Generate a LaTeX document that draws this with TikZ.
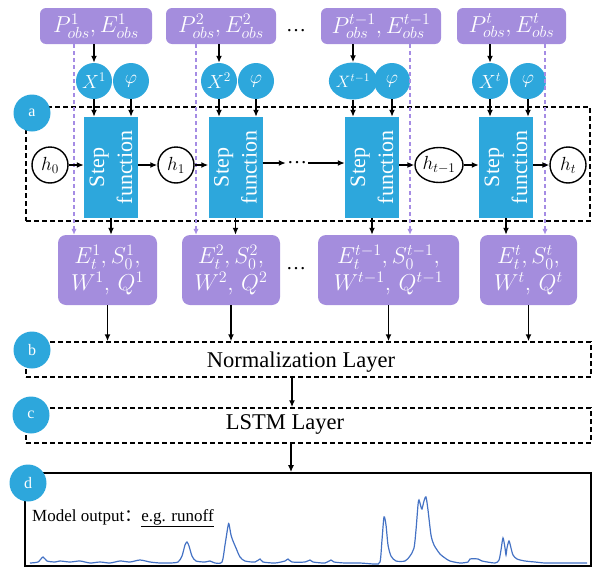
\RequirePackage{fix-cm}
\documentclass[tikz,border=0pt]{standalone}
\usepackage{fontspec}
\setmainfont{Liberation Serif}
\newfontfamily\cjkfont{Noto Sans CJK SC}
\usetikzlibrary{arrows.meta,calc,shapes.geometric}
\definecolor{cyanb}{RGB}{45,167,220}
\definecolor{purp}{RGB}{164,141,221}
\definecolor{purpline}{RGB}{165,140,228}
\definecolor{runoffc}{RGB}{68,114,196}
\begin{document}
\begin{tikzpicture}[x=1pt,y=-1pt,
 tbox/.style={fill=purp, rounded corners=6pt, text=white, inner sep=0pt, minimum height=36pt, font=\fontsize{23}{26}\selectfont},
 lbox/.style={fill=purp, rounded corners=8pt, text=white, inner sep=0pt, align=center, minimum height=70pt, font=\fontsize{23}{27}\selectfont},
 circ/.style={circle, fill=cyanb, text=white, minimum size=36pt, inner sep=0pt, font=\fontsize{19}{20}\selectfont},
 lab/.style={circle, fill=cyanb, text=white, minimum size=37pt, inner sep=0pt, font=\fontsize{16}{18}\selectfont},
 hnode/.style={circle, draw=black, line width=1.4pt, fill=white, minimum size=36pt, inner sep=0pt, font=\fontsize{19}{20}\selectfont},
 stepbox/.style={fill=cyanb, text=white, rotate=90, minimum width=101pt, minimum height=54pt, inner sep=0pt, align=center, font=\fontsize{22}{28}\selectfont},
 dashbox/.style={draw=black, dash pattern=on 5pt off 3pt, line width=1.4pt, inner sep=0pt},
 arr/.style={-{Latex[length=7pt,width=6pt]}, line width=1.6pt},
 parr/.style={draw=purpline, dash pattern=on 4pt off 3pt, line width=1.3pt, -{Latex[length=6pt,width=5.5pt]}},
 layertext/.style={font=\fontsize{22.5}{26}\selectfont},
 dots/.style={font=\fontsize{20}{22}\selectfont, inner sep=1pt}
]
\useasboundingbox (0,0) rectangle (600,573);

% region a
\node[dashbox, minimum width=564pt, minimum height=114pt] (A) at (308,164) {};
% layers
\node[dashbox, minimum width=565pt, minimum height=35pt] (N) at (308.5,359.5) {};
\node[layertext] at (301,362) {Normalization Layer};
\node[dashbox, minimum width=565pt, minimum height=35pt] (LS) at (308.5,425.5) {};
\node[layertext] at (285,424) {LSTM Layer};
\node[draw=black, line width=1.6pt, minimum width=566pt, minimum height=93pt, inner sep=0pt] (D) at (308,519.5) {};

% top input boxes
\node[tbox, minimum width=112pt] (P1) at (96,26) {$P^{1}_{obs},E^{1}_{obs}$};
\node[tbox, minimum width=110pt] (P2) at (221,26) {$P^{2}_{obs},E^{2}_{obs}$};
\node[tbox, minimum width=120pt] (P3) at (381,26) {$P^{t-1}_{obs},E^{t-1}_{obs}$};
\node[tbox, minimum width=109pt] (P4) at (511.5,26) {$P^{t}_{obs},E^{t}_{obs}$};
\node[dots] (dt) at (296,31) {\dots};

% purple dashed arrow start points
\coordinate (d1) at ($(P1.south)+(-22,0)$);
\coordinate (d2) at ($(P2.south)+(-25,0)$);
\coordinate (d3) at ($(P3.south)+(29,0)$);
\coordinate (d4) at ($(P4.south)+(33.5,0)$);

% X and phi circles
\node[circ] (X1) at (94,81) {$X^{1}$};
\node[circ] (F1) at (131,81) {$\varphi$};
\node[circ] (X2) at (219,81) {$X^{2}$};
\node[circ] (F2) at (256,81) {$\varphi$};
\node[circ, ellipse, minimum width=44pt, minimum height=37pt, font=\fontsize{16.5}{18}\selectfont] (X3) at (353,81) {$X^{t-1}$};
\node[circ] (F3) at (392,81) {$\varphi$};
\node[circ] (X4) at (490,81) {$X^{t}$};
\node[circ] (F4) at (528,81) {$\varphi$};

% step boxes (rotated: east=top, west=bottom, north=left, south=right)
\node[stepbox] (S1) at (111,167.5) {Step\\function};
\node[stepbox] (S2) at (235.5,167.5) {Step\\function};
\node[stepbox] (S3) at (372,167.5) {Step\\function};
\node[stepbox] (S4) at (506,167.5) {Step\\function};

% hidden states
\node[hnode] (H0) at (50,165) {$h_{0}$};
\node[hnode] (H1) at (176,165) {$h_{1}$};
\node[hnode, ellipse, minimum width=48pt, minimum height=35pt] (H3) at (439,165) {$h_{t-1}$};
\node[hnode] (H4) at (568,165) {$h_{t}$};
\node[dots] (dm) at (297,163) {\dots};

% lower output boxes
\node[lbox, minimum width=99pt] (L1) at (107.5,270) {$E^{1}_{t},S^{1}_{0},$\\$W^{1},\,Q^{1}$};
\node[lbox, minimum width=98pt] (L2) at (231,270) {$E^{2}_{t},S^{2}_{0},$\\$W^{2},\,Q^{2}$};
\node[lbox, minimum width=141pt] (L3) at (388.5,270) {$E^{t-1}_{t},S^{t-1}_{0},$\\$W^{t-1},\,Q^{t-1}$};
\node[lbox, minimum width=97pt] (L4) at (528.5,270) {$E^{t}_{t},S^{t}_{0},$\\$W^{t},\,Q^{t}$};
\node[dots] (db) at (296,269) {\dots};

% labels
\node[lab] (la) at (32,113) {a};
\node[lab] (lb) at (32,350) {b};
\node[lab] (lc) at (31,415) {c};
\node[lab] (ld) at (28,483) {d};

% purple dashed connectors
\draw[parr] (d1) -- (d1 |- L1.north);
\draw[parr] (d2) -- (d2 |- L2.north);
\draw[parr] (d3) -- (d3 |- L3.north);
\draw[parr] (d4) -- (d4 |- L4.north);

% black arrows
\foreach \i in {1,2,3,4}{
  \draw[arr] (X\i.north |- P\i.south) -- (X\i.north);
  \draw[arr] (X\i.south) -- (X\i.south |- S\i.east);
  \draw[arr] (F\i.south) -- (F\i.south |- S\i.east);
  \draw[arr] (S\i.west) -- (S\i.west |- L\i.north);
  \draw[arr] (L\i.south) -- (L\i.south |- N.north);
}
% recurrent chain
\draw[arr] (H0.east) -- (H0.east -| S1.north);
\draw[arr] (S1.south |- H1.west) -- (H1.west);
\draw[arr] (H1.east) -- (H1.east -| S2.north);
\draw[arr] (S2.south |- dm.west) -- (dm.west);
\draw[arr] (dm.east) -- (dm.east -| S3.north);
\draw[arr] (S3.south |- H3.west) -- (H3.west);
\draw[arr] (H3.east) -- (H3.east -| S4.north);
\draw[arr] (S4.south |- H4.west) -- (H4.west);

% layers
\coordinate (c1) at (292,0);
\coordinate (c2) at (291,0);
\draw[arr] (N.south -| c1) -- (LS.north -| c1);
\draw[arr] (LS.south -| c2) -- (D.north -| c2);

% output
\node[anchor=west, font=\fontsize{17}{20}\selectfont, inner sep=0pt] (mo) at (32,518) {Model output{\cjkfont ：}\underline{e.g. runoff}};
\draw[runoffc, line width=1.2pt] plot[smooth, tension=0.45] coordinates {
(30,563)(38,562)(43,557)(47,561)(55,562)(60,561)(70,562)(80,561)(90,563)(100,562)(110,563)(120,561)(130,562)(140,560)(150,562)(160,563)(170,563)(178,562)(182,556)(185,545)(187,542)(189,546)(192,556)(196,561)(205,562)(210,561)(215,563)(222,562)(225,545)(228,526)(229,524)(231,535)(233,541)(236,548)(240,557)(245,561)(255,562)(260,559)(263,562)(275,563)(285,561)(288,559)(292,562)(305,562)(310,560)(313,562)(325,563)(331,560)(334,562)(345,563)(360,563)(375,564)(380,562)(382,540)(384,517)(386,525)(388,545)(391,556)(396,561)(405,561)(410,556)(414,548)(416,530)(418,505)(419,500)(421,507)(422,509)(424,501)(426,497)(428,510)(431,535)(434,545)(440,554)(445,558)(450,561)(460,563)(468,562)(470,559)(478,559)(482,561)(495,563)(499,560)(501,550)(503,538)(505,548)(506,555)(507,548)(509,541)(511,548)(513,555)(517,559)(525,561)(535,562)(545,563)(560,563)(587,563)};
\end{tikzpicture}
\end{document}
